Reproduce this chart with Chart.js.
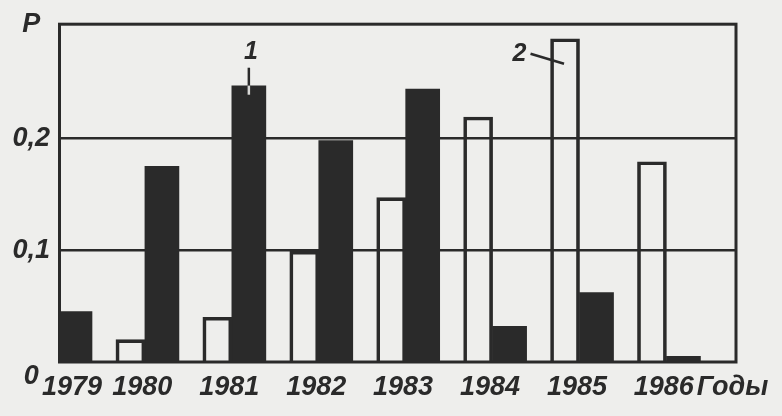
<!DOCTYPE html>
<html>
<head>
<meta charset="utf-8">
<script src="https://cdn.jsdelivr.net/npm/chart.js@4/dist/chart.umd.min.js"></script>
<style>
  html, body { margin: 0; padding: 0; background: #eeeeec; }
  #wrap { width: 782px; height: 416px; position: relative; }
</style>
</head>
<body>
<div id="wrap"><canvas id="c"></canvas></div>
<script>
// ---- data ----
const years = [1979, 1980, 1981, 1982, 1983, 1984, 1985, 1986];
const series1 = [0.045, 0.175, 0.247, 0.198, 0.244, 0.032, 0.062, 0.005]; // curve 1 (black bars)
const series2 = [null, 0.020, 0.040, 0.099, 0.147, 0.219, 0.289, 0.179];  // curve 2 (open bars)
const yTickValues = [0, 0.1, 0.2];
const yTickLabels = ['0', '0,1', '0,2'];
const yAxisLabel = 'P';
const xAxisLabel = 'Годы';
const series1Label = '1';
const series2Label = '2';

const INK = '#2a2a2a';
const BG = '#eeeeec';
const FONT = '"Liberation Sans", Arial, sans-serif';
const FONT_SIZE = 27;

const yMax = 0.302;
const xMin = 1979, xMax = 1986.8, xTitlePos = 1986.76;

const bgPlugin = {
  id: 'bg',
  beforeDraw(chart) {
    const ctx = chart.ctx;
    ctx.save();
    ctx.fillStyle = BG;
    ctx.fillRect(0, 0, chart.width, chart.height);
    ctx.restore();
  }
};

const framePlugin = {
  id: 'frame',
  afterDatasetsDraw(chart) {
    const {ctx, chartArea: a} = chart;
    ctx.save();
    ctx.strokeStyle = INK;
    ctx.lineWidth = 3;
    ctx.strokeRect(a.left + 1.5, a.top, a.right - a.left - 1.5, a.bottom - a.top);
    // annotations "1" and "2"
    const b1 = chart.getDatasetMeta(1).data[2];
    const b2 = chart.getDatasetMeta(0).data[6];
    ctx.font = 'italic bold 25px ' + FONT;
    ctx.fillStyle = INK;
    ctx.textAlign = 'center';
    ctx.textBaseline = 'middle';
    if (b1) {
      ctx.fillText(series1Label, b1.x + 2, b1.y - 34);
      ctx.lineWidth = 2.5;
      ctx.beginPath();
      ctx.moveTo(b1.x, b1.y - 18);
      ctx.lineTo(b1.x, b1.y);
      ctx.stroke();
      ctx.strokeStyle = '#d8d8d6';
      ctx.beginPath();
      ctx.moveTo(b1.x, b1.y);
      ctx.lineTo(b1.x, b1.y + 9);
      ctx.stroke();
    }
    if (b2) {
      const left = b2.x - b2.width / 2;
      ctx.fillText(series2Label, left - 31, b2.y + 15);
      ctx.strokeStyle = INK;
      ctx.lineWidth = 2.5;
      ctx.beginPath();
      ctx.moveTo(left - 20, b2.y + 15);
      ctx.lineTo(b2.x - 1, b2.y + 25);
      ctx.stroke();
    }
    ctx.restore();
  }
};

const data = {
  datasets: [
    {
      label: series2Label,
      data: years.map((y, i) => ({x: y, y: series2[i]})),
      backgroundColor: 'rgba(0,0,0,0)',
      borderColor: INK,
      borderWidth: 3,
      borderSkipped: 'bottom',
      barThickness: 29
    },
    {
      label: series1Label,
      data: years.map((y, i) => ({x: y, y: series1[i]})),
      backgroundColor: INK,
      borderWidth: 0,
      barThickness: 34
    }
  ]
};

const tickFont = { family: FONT, size: FONT_SIZE, style: 'italic', weight: 'bold' };

new Chart(document.getElementById('c'), {
  type: 'bar',
  data,
  plugins: [bgPlugin, framePlugin],
  options: {
    responsive: true,
    maintainAspectRatio: false,
    animation: false,
    events: [],
    layout: { padding: { top: 24, right: 46, bottom: 0, left: 0 } },
    plugins: { legend: { display: false }, tooltip: { enabled: false } },
    scales: {
      x: {
        type: 'linear',
        offset: false,
        min: xMin,
        max: xMax,
        border: { display: false },
        grid: { display: false, drawTicks: false },
        afterBuildTicks(scale) {
          const t = years.map((y, i) => ({ value: i === 0 ? y + 0.16 : y - 0.03 }));
          t.push({ value: xTitlePos });
          scale.ticks = t;
        },
        afterFit(scale) { scale.height = 54; },
        ticks: {
          autoSkip: false,
          maxRotation: 0,
          padding: 9,
          color: INK,
          font: tickFont,
          callback(value, index) {
            return index < years.length ? String(years[index]) : xAxisLabel;
          }
        }
      },
      y: {
        min: 0,
        max: yMax,
        border: { display: false },
        grid: {
          drawTicks: false,
          color(ctx) {
            const v = ctx.tick && ctx.tick.value;
            return (v === 0.1 || v === 0.2) ? INK : 'rgba(0,0,0,0)';
          },
          lineWidth: 2.5
        },
        afterBuildTicks(scale) {
          const t = yTickValues.map((v, i) => ({ value: i === 0 ? -0.013 : v }));
          t.push({ value: yMax });
          scale.ticks = t;
        },
        afterFit(scale) { scale.width = 58; },
        ticks: {
          autoSkip: false,
          padding: 8,
          crossAlign: 'center',
          color: INK,
          font: tickFont,
          callback(value, index) {
            return index < yTickLabels.length ? yTickLabels[index] : yAxisLabel;
          }
        }
      }
    }
  }
});
</script>
</body>
</html>
